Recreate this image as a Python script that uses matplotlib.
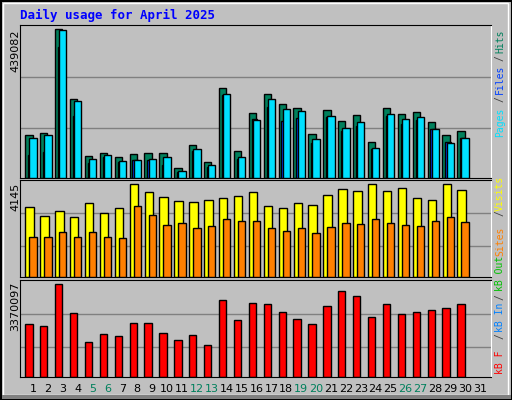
import matplotlib
matplotlib.use("Agg")
import matplotlib.pyplot as plt
from matplotlib.patches import Rectangle
import numpy as np

days = list(range(1, 32))
weekend = [5, 6, 12, 13, 19, 20, 26, 27]
hits = [126160,132120,439082,233450,63580,72520,60600,69540,72520,72520,30800,96360,48680,266230,78480,
        191720,248350,218550,206630,129140,200660,167880,185760,105300,206630,188740,194700,164900,126160,138080]
files = [117200,126200,436100,227500,57600,66600,51700,54600,57600,60600,21900,84400,39700,248400,60600,
         170900,233500,203600,197700,114200,182800,147000,164900,87400,188700,173800,179800,144000,102300,117200]
pages = [66600,75500,388400,182800,45700,60600,48700,54600,54600,39700,18900,78500,33800,245400,57600,
         173800,209600,167900,176800,102300,179800,138100,153000,84400,182800,158900,170900,144000,105300,117200]
visits = [3112,2709,2933,2664,3292,2843,3068,4145,3786,3561,3382,3337,3427,3517,3606,
          3786,3157,3068,3292,3202,3651,3921,3831,4145,3831,3966,3517,3427,4145,3876]
sites = [1766,1766,1990,1766,1990,1766,1721,3157,2753,2304,2394,2170,2260,2574,2484,
         2484,2170,2035,2170,1945,2215,2394,2349,2574,2394,2304,2260,2484,2664,2439]
kbytes = [1931000,1857000,3370097,2300000,1267000,1562000,1488000,1968000,1968000,1599000,1341000,1525000,1156000,2780000,2042000,
          2669000,2632000,2337000,2079000,1931000,2558000,3112000,2927000,2153000,2632000,2263000,2337000,2411000,2485000,2632000]

BG = "#C0C0C0"
fig = plt.figure(figsize=(5.12, 4.0), dpi=100, facecolor=BG)
W, H = 512, 400

def axrect(top, bot):
    return [20 / W, (H - bot) / H, (491 - 20) / W, (bot - top) / H]

d = np.arange(1, 31)
xl = (0.13, 31.74)

def style(ax, mx, top_frac, grid_fracs):
    ax.set_facecolor(BG)
    ax.set_xlim(*xl)
    ax.set_ylim(0, mx * top_frac)
    ax.set_xticks([]); ax.set_yticks([])
    for g in grid_fracs:
        ax.axhline(mx * g, color="#808080", lw=1, zorder=0)
    for s in ["top", "left", "bottom"]:
        ax.spines[s].set_color("black")
    ax.spines["right"].set_color("white")

ax1 = fig.add_axes(axrect(25, 178))
style(ax1, max(hits), 1.03, [0.337, 0.681])
ax1.bar(d - 0.27, hits, width=0.49, color="#00805C", edgecolor="black", lw=1, zorder=2)
ax1.bar(d - 0.15, pages, width=0.35, color="#0040FF", edgecolor="black", lw=1, zorder=3)
ax1.bar(d, files, width=0.49, color="#00E0FF", edgecolor="black", lw=1, zorder=4)

ax2 = fig.add_axes(axrect(180, 277))
style(ax2, max(visits), 1.04, [0.329, 0.686])
ax2.bar(d - 0.23, visits, width=0.56, color="#FFFF00", edgecolor="black", lw=1, zorder=2)
ax2.bar(d, sites, width=0.49, color="#FF8000", edgecolor="black", lw=1, zorder=3)

ax3 = fig.add_axes(axrect(280, 377))
style(ax3, max(kbytes), 1.04, [0.321, 0.679])
ax3.bar(d - 0.27, kbytes, width=0.49, color="#FF0000", edgecolor="black", lw=1, zorder=2)

for day in days:
    xpx = 33 + 14.9 * (day - 1)
    fig.text(xpx / W, 1 - 389 / H, str(day), ha="center", va="center", fontsize=8,
             color="#00805C" if day in weekend else "black")

mono = "DejaVu Sans Mono"
fig.text(15 / W, 1 - 29 / H, str(max(hits)), rotation=90, ha="center", va="top", fontsize=8)
fig.text(15 / W, 1 - 183 / H, str(max(visits)), rotation=90, ha="center", va="top", fontsize=8)
fig.text(15 / W, 1 - 282 / H, str(max(kbytes)), rotation=90, ha="center", va="top", fontsize=8)

legend = [("Hits", 41, "#00805C"), ("/", 58, "#404040"), ("Files", 79, "#0040FF"), ("/", 99, "#404040"),
          ("Pages", 122, "#00E0FF"),
          ("Visits", 193, "#FFFF00"), ("/", 213, "#404040"), ("Sites", 241, "#FF8000"),
          ("kB Out", 273, "#00C000"), ("/", 297, "#404040"), ("kB In", 317, "#0080FF"),
          ("/", 336, "#404040"), ("kB F", 362, "#FF0000")]
for txt, yc, col in legend:
    fig.text(500 / W, 1 - yc / H, txt, rotation=90, ha="center", va="center", fontsize=7,
             family=mono, color=col)

fig.text(20 / W, 1 - 15 / H, "Daily usage for April 2025", ha="left", va="center", fontsize=9,
         family=mono, weight="bold", color="#0000FF")

fig.patches.append(Rectangle((0.5 / W, 0.5 / H), 1 - 1 / W, 1 - 1 / H, transform=fig.transFigure,
                             fill=False, edgecolor="black", lw=1.5))
fig.patches.append(Rectangle((3 / W, 5 / H), 1 - 7 / W, 1 - 8 / H, transform=fig.transFigure,
                             fill=False, edgecolor="white", lw=1))
fig.patches.append(Rectangle((2 / W, 1 / H), 1 - 3 / W, 4 / H, transform=fig.transFigure,
                             color="#808080", lw=0))

fig.savefig("out.png", dpi=100, facecolor=BG)
